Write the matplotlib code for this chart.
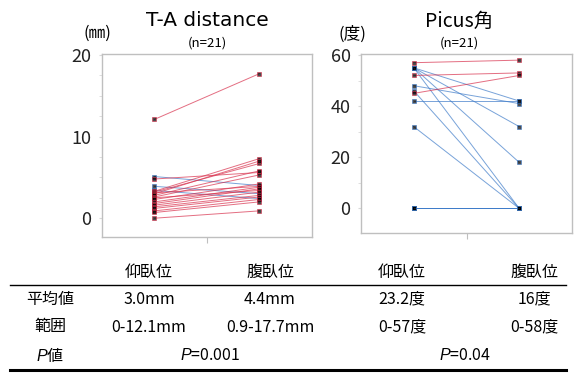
import matplotlib
matplotlib.use("Agg")
import matplotlib.pyplot as plt
from matplotlib.lines import Line2D
from matplotlib.ticker import MultipleLocator, FixedLocator

plt.rcParams['font.family'] = ['Noto Sans CJK JP', 'DejaVu Sans']
plt.rcParams['mathtext.fontset'] = 'custom'
plt.rcParams['mathtext.it'] = 'Liberation Sans:italic'
plt.rcParams['mathtext.rm'] = 'Noto Sans CJK JP'

# T-A distance (mm), supine -> prone
ta_supine = [12.1, 5.1, 4.8, 3.9, 3.4, 3.3, 3.2, 3.1, 3.0, 2.8, 2.6,
             2.5, 2.3, 2.0, 1.8, 1.6, 1.4, 1.2, 0.9, 0.7, 0.0]
ta_prone = [17.7, 4.0, 5.6, 3.0, 2.4, 7.3, 6.7, 3.9, 7.0, 5.8, 5.3,
            3.4, 4.2, 3.8, 3.6, 3.2, 2.8, 2.6, 2.3, 2.0, 0.9]

# Picus angle (deg), supine -> prone
picus_supine = [57, 55, 55, 55, 55, 52, 48, 46, 45, 42, 32,
                0, 0, 0, 0, 0, 0, 0, 0, 0, 0]
picus_prone = [58, 42, 32, 18, 0, 53, 41, 0, 52, 42, 0,
               0, 0, 0, 0, 0, 0, 0, 0, 0, 0]

positions = ['仰臥位', '腹臥位']
row_labels = ['平均値', '範囲', '$P$値']
ta_table = [['3.0mm', '4.4mm'], ['0-12.1mm', '0.9-17.7mm']]
picus_table = [['23.2度', '16度'], ['0-57度', '0-58度']]
p_values = ['$P$=0.001', '$P$=0.04']

RED = '#d8304c'
BLUE = '#3f7cc9'
GRID = '#bfbfbf'
W, H = 575, 374


def fx(x):
    return x / W


def fy(y):
    return 1 - y / H


def paired(ax, before, after, ylim, major, minor):
    for a, b in zip(before, after):
        c = RED if b > a else BLUE
        ax.plot([0, 1], [a, b], color=c, lw=0.7, alpha=0.7,
                marker='s', ms=3, mfc='black', mec=c, mew=0.6)
    ax.set_xlim(-0.5, 1.5)
    ax.set_ylim(*ylim)
    ax.xaxis.set_major_locator(FixedLocator([0.5]))
    ax.set_xticklabels([])
    ax.tick_params(axis='x', length=4, color=GRID, direction='out')
    ax.yaxis.set_major_locator(MultipleLocator(major))
    ax.yaxis.set_minor_locator(MultipleLocator(minor))
    ax.tick_params(axis='y', which='both', length=2.5, color='#d9d9d9',
                   labelsize=13, labelcolor='#222222', pad=5)
    for s in ax.spines.values():
        s.set_color(GRID)
        s.set_linewidth(1)


fig = plt.figure(figsize=(5.75, 3.74), dpi=100)

ax1 = fig.add_axes([fx(102), fy(237), fx(210), 183 / H])
paired(ax1, ta_supine, ta_prone, (-2.3, 20.1), 10, 2.5)

ax2 = fig.add_axes([fx(361), fy(233), fx(211), 179 / H])
paired(ax2, picus_supine, picus_prone, (-9.6, 60.4), 20, 10)

# titles and units
fig.text(fx(207), fy(21), 'T-A distance', ha='center', va='center',
         fontsize=14.5, family='DejaVu Sans')
fig.text(fx(207), fy(43), '(n=21)', ha='center', va='center', fontsize=9.5)
fig.text(fx(97), fy(33), '(㎜)', ha='center', va='center', fontsize=12)
fig.text(fx(459), fy(21), 'Picus角', ha='center', va='center', fontsize=14)
fig.text(fx(459), fy(43), '(n=21)', ha='center', va='center', fontsize=9.5)
fig.text(fx(352), fy(34), '(度)', ha='center', va='center', fontsize=12)

# table
col_x = [149, 270, 402, 534]
row_y = [299, 327, 355]
fs = 11.5
for x, lab in zip(col_x, positions * 2):
    fig.text(fx(x), fy(272), lab, ha='center', va='center', fontsize=fs)
for y, lab in zip(row_y, row_labels):
    fig.text(fx(50), fy(y), lab, ha='center', va='center', fontsize=fs)
for r in range(2):
    for c in range(2):
        fig.text(fx(col_x[c]), fy(row_y[r]), ta_table[r][c],
                 ha='center', va='center', fontsize=fs)
        fig.text(fx(col_x[c + 2]), fy(row_y[r]), picus_table[r][c],
                 ha='center', va='center', fontsize=fs)
fig.text(fx(210), fy(row_y[2]), p_values[0], ha='center', va='center', fontsize=fs)
fig.text(fx(465), fy(row_y[2]), p_values[1], ha='center', va='center', fontsize=fs)

fig.add_artist(Line2D([fx(10), fx(566)], [fy(285), fy(285)], color='black', lw=1))
fig.add_artist(Line2D([fx(10), fx(566)], [fy(370), fy(370)], color='black', lw=2.2))

fig.savefig('out.png', dpi=100)
